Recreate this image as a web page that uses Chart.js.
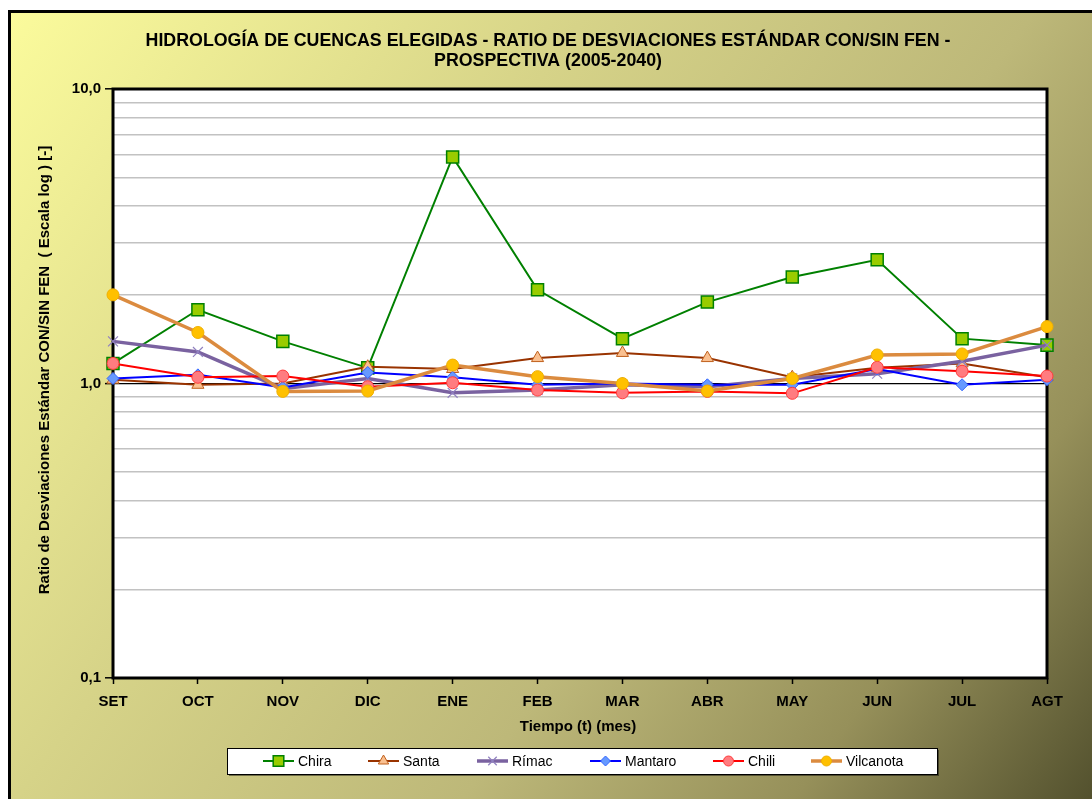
<!DOCTYPE html>
<html>
<head>
<meta charset="utf-8">
<script src="https://cdn.jsdelivr.net/npm/chart.js@4.4.1/dist/chart.umd.min.js"></script>
<style>
html, body { margin: 0; padding: 0; background: #fff; overflow: hidden; }
#hidroChart { display: block; }
</style>
</head>
<body>
<canvas id="hidroChart" width="1092" height="799"></canvas>
<script>
// Months of the hydrological year
const months = ["SET", "OCT", "NOV", "DIC", "ENE", "FEB", "MAR", "ABR", "MAY", "JUN", "JUL", "AGT"];

// Ratio of standard deviations with / without FEN
const chira     = [1.17, 1.78, 1.39, 1.13, 5.88, 2.08, 1.42, 1.89, 2.30, 2.63, 1.42, 1.35];
const santa     = [1.03, 0.99, 1.00, 1.14, 1.12, 1.22, 1.27, 1.22, 1.05, 1.13, 1.17, 1.05];
const rimac     = [1.39, 1.28, 0.96, 1.04, 0.93, 0.95, 0.99, 0.975, 1.04, 1.08, 1.19, 1.35];
const mantaro   = [1.04, 1.07, 0.97, 1.09, 1.05, 0.99, 1.00, 0.99, 0.99, 1.12, 0.99, 1.03];
const chili     = [1.17, 1.05, 1.06, 0.975, 1.006, 0.95, 0.93, 0.94, 0.926, 1.135, 1.10, 1.06];
const vilcanota = [2.00, 1.49, 0.94, 0.943, 1.155, 1.055, 1.00, 0.943, 1.04, 1.25, 1.26, 1.56];

// Log axis gridlines and the labelled ones
const yGridValues = [0.1, 0.2, 0.3, 0.4, 0.5, 0.6, 0.7, 0.8, 0.9, 1, 2, 3, 4, 5, 6, 7, 8, 9, 10];
const yLabelled = { 0.1: "0,1", 1: "1,0", 10: "10,0" };

const titleLines = ["HIDROLOGÍA DE CUENCAS ELEGIDAS - RATIO DE DESVIACIONES ESTÁNDAR CON/SIN FEN -", "PROSPECTIVA (2005-2040)"];
const yTitle = "Ratio de Desviaciones Estándar CON/SIN FEN  ( Escala log ) [-]";
const xTitle = "Tiempo (t) (mes)";

const FONT = "'Liberation Sans', Arial, sans-serif";

//Series styling
const series = [
    { label: "Chira", data: chira, line: "#008000", width: 2, style: "rect", radius: 8.5, fill: "#99cc00", border: "#008000", bw: 1.5 },
    { label: "Santa", data: santa, line: "#993300", width: 2, style: "triangle", radius: 7, fill: "#fac090", border: "#c0601c", bw: 1 },
    { label: "Rímac", data: rimac, line: "#7a62a0", width: 3.5, style: "crossRot", radius: 7, fill: "#8c7bb8", border: "#9080c0", bw: 1.2 },
    { label: "Mantaro", data: mantaro, line: "#0000ff", width: 2, style: "rectRot", radius: 6, fill: "#6699ff", border: "#3366ff", bw: 1 },
    { label: "Chili", data: chili, line: "#ff0000", width: 2, style: "circle", radius: 6, fill: "#ff7c80", border: "#ff3b3b", bw: 1 },
    { label: "Vilcanota", data: vilcanota, line: "#db8b3f", width: 3.5, style: "circle", radius: 6, fill: "#ffc000", border: "#f0b000", bw: 1 }
];

// Background, plot area, titles and legend
const decorPlugin = {
    id: "decor",
    beforeDraw(chart) {
        const ctx = chart.ctx;
        const area = chart.chartArea;
        ctx.save();
        ctx.fillStyle = "#ffffff";
        ctx.fillRect(0, 0, chart.width, chart.height);
        const grad = ctx.createLinearGradient(9, 11, chart.width, chart.height);
        grad.addColorStop(0, "#fbfb9c");
        grad.addColorStop(0.35, "#d6d388");
        grad.addColorStop(0.62, "#bdb879");
        grad.addColorStop(0.82, "#96905a");
        grad.addColorStop(1, "#53512e");
        ctx.fillStyle = grad;
        ctx.fillRect(9, 11, chart.width, chart.height);
        ctx.fillStyle = "#000";
        ctx.fillRect(8, 10, chart.width, 3);
        ctx.fillRect(8, 10, 3, chart.height);
        // plot area
        ctx.fillStyle = "#ffffff";
        ctx.fillRect(area.left, area.top, area.right - area.left, area.bottom - area.top);
        ctx.restore();
    },
    beforeDatasetsDraw(chart) {
        const ctx = chart.ctx;
        const a = chart.chartArea;
        ctx.save();
        ctx.strokeStyle = "#000";
        ctx.lineWidth = 3;
        ctx.strokeRect(a.left, a.top, a.right - a.left, a.bottom - a.top);
        ctx.restore();
    },
    afterDraw(chart) {
        const ctx = chart.ctx;
        ctx.save();
        ctx.fillStyle = "#000";
        ctx.textAlign = "center";
        ctx.textBaseline = "middle";
        ctx.font = "bold 17.8px " + FONT;
        ctx.fillText(titleLines[0], 548, 41);
        ctx.fillText(titleLines[1], 548, 61);

        ctx.font = "bold 15px " + FONT;
        ctx.fillText(xTitle, 578, 727);

        ctx.save();
        ctx.translate(45, 370);
        ctx.rotate(-Math.PI / 2);
        ctx.font = "bold 15px " + FONT;
        ctx.fillText(yTitle, 0, 0);
        ctx.restore();

        //Legend box
        const box = { x: 227, y: 748, w: 710, h: 26 };
        ctx.fillStyle = "rgba(0,0,0,0.45)";
        ctx.fillRect(box.x + 2, box.y + 2, box.w, box.h);
        ctx.fillStyle = "#fff";
        ctx.fillRect(box.x, box.y, box.w, box.h);
        ctx.strokeStyle = "#000";
        ctx.lineWidth = 1;
        ctx.strokeRect(box.x + 0.5, box.y + 0.5, box.w, box.h);

        const starts = [263, 368, 477, 590, 713, 811];
        const cy = box.y + box.h / 2;
        ctx.font = "14px " + FONT;
        ctx.textAlign = "left";
        series.forEach((s, i) => {
            const x0 = starts[i];
            ctx.strokeStyle = s.line;
            ctx.lineWidth = s.width;
            ctx.beginPath();
            ctx.moveTo(x0, cy);
            ctx.lineTo(x0 + 31, cy);
            ctx.stroke();
            ctx.fillStyle = s.fill;
            ctx.strokeStyle = s.border;
            ctx.lineWidth = s.bw;
            Chart.helpers.drawPoint(ctx, { pointStyle: s.style, radius: s.radius - 1, rotation: 0, borderWidth: s.bw }, x0 + 15.5, cy);
            ctx.fillStyle = "#000";
            ctx.fillText(s.label, x0 + 35, cy + 1);
        });
        ctx.restore();
    }
};

const ctx = document.getElementById("hidroChart").getContext("2d");

const chartData = {
    labels: months,
    datasets: series.map((s, i) => ({
        label: s.label,
        data: s.data,
        borderColor: s.line,
        borderWidth: s.width,
        backgroundColor: s.fill,
        pointStyle: s.style,
        pointRadius: s.radius,
        pointBackgroundColor: s.fill,
        pointBorderColor: s.border,
        pointBorderWidth: s.bw,
        tension: 0,
        clip: false,
        order: series.length - 1 - i //last series drawn on top, like the original
    }))
};

const chartOptions = {
    responsive: false,
    animation: false,
    devicePixelRatio: 1,
    layout: { padding: { top: 89, left: 0, right: 45, bottom: 81 } },
    plugins: {
        legend: { display: false },
        title: { display: false },
        tooltip: { enabled: false }
    },
    scales: {
        x: {
            type: "category",
            offset: false,
            afterFit(scale) { scale.height = 40; },
            border: { display: false },
            grid: { drawOnChartArea: false, drawTicks: true, tickLength: 6, tickColor: "#000", tickWidth: 1.5 },
            ticks: { color: "#000", font: { family: FONT, size: 15, weight: "bold" }, padding: 9, maxRotation: 0, autoSkip: false }
        },
        y: {
            type: "logarithmic",
            min: 0.1,
            max: 10,
            afterFit(scale) { scale.width = 113; },
            afterBuildTicks(scale) { scale.ticks = yGridValues.map(v => ({ value: v })); },
            border: { display: false },
            grid: {
                color: c => (c.tick && c.tick.value === 1 ? "#000" : "#c2c2c2"),
                lineWidth: c => (c.tick && c.tick.value === 1 ? 1.2 : 1.6),
                tickLength: 8,
                tickColor: c => (c.tick && yLabelled[c.tick.value] ? "#000" : "rgba(0,0,0,0)"),
                tickWidth: 1.5
            },
            ticks: {
                autoSkip: false,
                color: "#000",
                font: { family: FONT, size: 15, weight: "bold" },
                padding: 4,
                callback: v => yLabelled[v] || ""
            }
        }
    }
};

new Chart(ctx, {
    type: "line",
    data: chartData,
    options: chartOptions,
    plugins: [decorPlugin]
});
</script>
</body>
</html>
